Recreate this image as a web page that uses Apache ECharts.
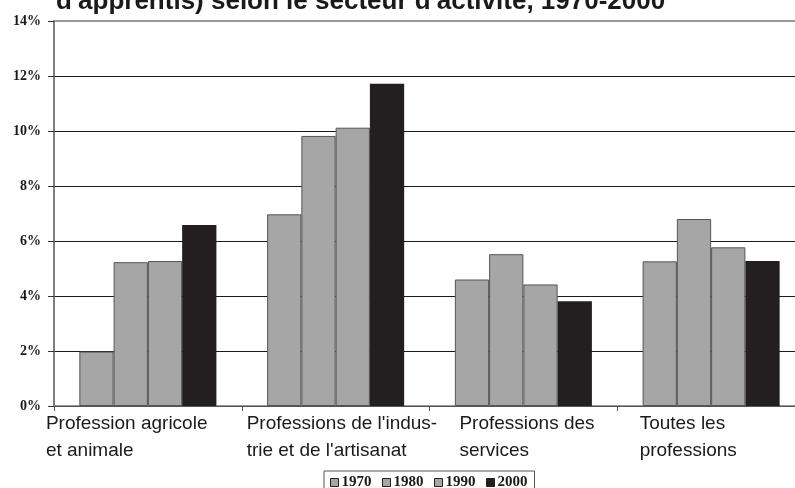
<!DOCTYPE html>
<html>
<head>
<meta charset="utf-8">
<script src="https://cdn.jsdelivr.net/npm/echarts@6/dist/echarts.min.js"></script>
<style>
html,body{margin:0;padding:0;background:#fff;}
#c{width:795px;height:488px;}
</style>
</head>
<body>
<div id="c"></div>
<script>
var titleText = "d'apprentis) selon le secteur d'activité, 1970-2000";
var categories = [
  "Profession agricole\net animale",
  "Professions de l'indus-\ntrie et de l'artisanat",
  "Professions des\nservices",
  "Toutes les\nprofessions"
];
var seriesNames = ["1970", "1980", "1990", "2000"];
var values1970 = [1.98, 6.97, 4.60, 5.26];
var values1980 = [5.23, 9.82, 5.52, 6.80];
var values1990 = [5.27, 10.12, 4.42, 5.77];
var values2000 = [6.58, 11.72, 3.81, 5.27];
var yMin = 0, yMax = 14, yStep = 2;

var seriesValues = [values1970, values1980, values1990, values2000];
var GRAY = '#a6a6a6', BLACK = '#231f20';
var labelWidths = [204, 178, 128, 143];

var rich = {};
labelWidths.forEach(function (w, i) {
  rich['c' + i] = {
    width: w, align: 'left', fontSize: 19, lineHeight: 27,
    fontFamily: 'Liberation Sans', color: '#1a1a1a'
  };
});

var chart = echarts.init(document.getElementById('c'), null, {renderer: 'canvas'});
chart.setOption({
  animation: false,
  backgroundColor: '#fff',
  title: {
    text: titleText,
    left: 56, top: -11, padding: 0,
    textStyle: {fontFamily: 'Liberation Sans', fontWeight: 'bold', fontSize: 26, color: '#1a1a1a'}
  },
  grid: {
    left: 54, width: 751, top: 21, height: 385,
    outerBoundsMode: 'none', containLabel: false,
    show: true, borderColor: '#777', borderWidth: 1.5, backgroundColor: 'transparent'
  },
  legend: {
    data: seriesNames.map(function (n, i) {
      return {name: n, itemStyle: {borderColor: '#222', borderWidth: 1}};
    }),
    left: 324, top: 471,
    padding: [4, 7, 6, 6],
    borderColor: '#555', borderWidth: 1,
    itemWidth: 8, itemHeight: 8, itemGap: 10.5, icon: 'rect',
    textStyle: {fontFamily: 'Liberation Serif', fontWeight: 'bold', fontSize: 15, color: '#1a1a1a', padding: [0, 0, 0, -2]}
  },
  xAxis: {
    type: 'category',
    data: categories,
    axisLine: {lineStyle: {color: '#555', width: 1}},
    axisTick: {show: true, length: 5, lineStyle: {color: '#555'}},
    axisLabel: {
      interval: 0, margin: 4,
      formatter: function (v, idx) {
        return v.split('\n').map(function (l) { return '{c' + idx + '|' + l + '}'; }).join('\n');
      },
      rich: rich
    },
    splitLine: {show: false}
  },
  yAxis: {
    type: 'value',
    min: yMin, max: yMax, interval: yStep,
    axisLine: {show: true, lineStyle: {color: '#777', width: 1.5}},
    axisTick: {show: true, length: 6, lineStyle: {color: '#333'}},
    axisLabel: {
      formatter: '{value}%', margin: 13,
      fontFamily: 'Liberation Serif', fontWeight: 'bold', fontSize: 14, color: '#1a1a1a'
    },
    splitLine: {show: true, showMinLine: false, showMaxLine: false, lineStyle: {color: '#1a1a1a', width: 1}}
  },
  series: seriesNames.map(function (n, i) {
    return {
      name: n, type: 'bar',
      data: seriesValues[i],
      barGap: '0%', barCategoryGap: '27%',
      itemStyle: i < 3
        ? {color: GRAY, borderColor: '#555', borderWidth: 1}
        : {color: BLACK, borderColor: BLACK, borderWidth: 0}
    };
  })
});
</script>
</body>
</html>
